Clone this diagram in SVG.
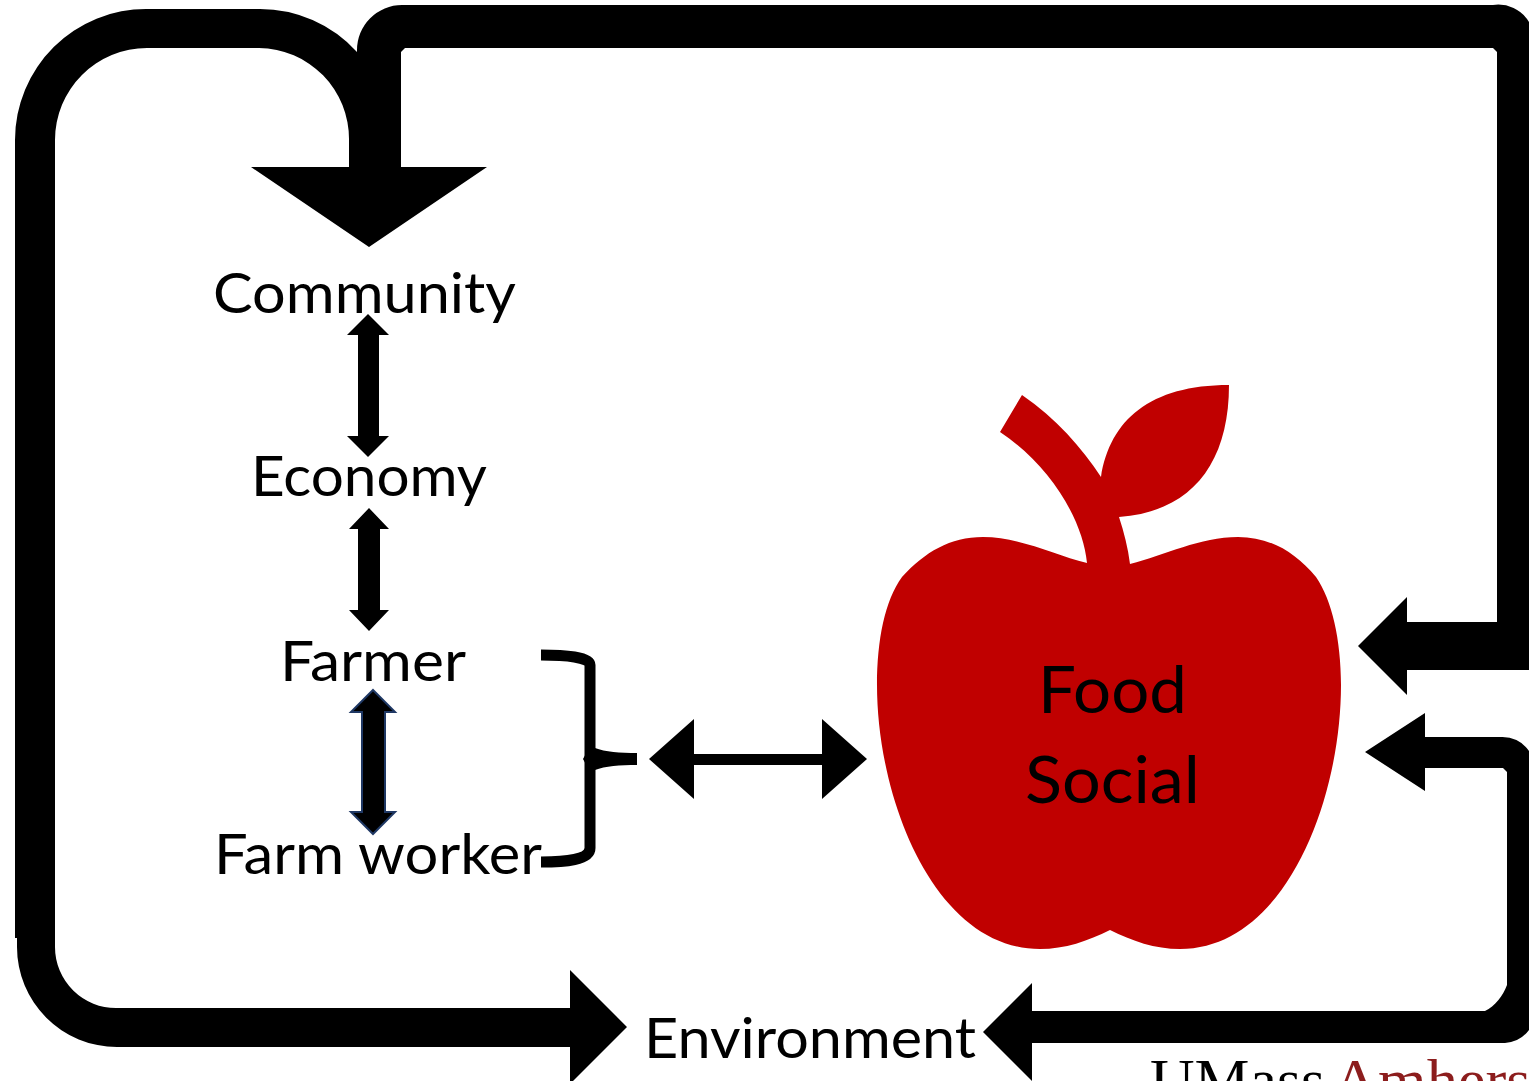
<svg xmlns="http://www.w3.org/2000/svg" width="1529" height="1081" viewBox="0 0 1529 1081">
<style>
text{font-family:Lato,"Liberation Sans",sans-serif;fill:#000;font-size:57px}
.big{font-size:66px}
.um{font-family:"Liberation Serif",serif;font-size:60px}
.k{fill:#000}
</style>
<rect width="1529" height="1081" fill="#fff"/>
<g id="logo"><text class="um" x="1150" y="1100" textLength="175" lengthAdjust="spacingAndGlyphs">UMass</text><text class="um" x="1333" y="1100" textLength="215" lengthAdjust="spacingAndGlyphs" style="fill:#8c1d1d">Amherst</text></g>
<g id="connectors">
<path class="k" d="M570 970L627 1027L570 1084V1047H117A100 100 0 0 1 17 947V938H15V140A131 131 0 0 1 147 9H259A131 131 0 0 1 357 52L372 170H349V140A91 91 0 0 0 259 48H147A92 92 0 0 0 55 140V947A61 61 0 0 0 117 1008H570Z"/>
<path class="k" d="M251 167H349L357 140V50A45 45 0 0 1 402 5H1493A36 36 0 0 1 1529 22V670H1407V695L1358 646L1407 597V622H1497V52L1493 48H405L401 52V167H487L369 247Z"/>
<path class="k" d="M1365 752L1425 713V737H1500A32 32 0 0 1 1529 751V1030A32 32 0 0 1 1505 1043H1032V1081L983 1032L1032 983V1011H1485C1495 1006 1503 996 1507 985V772L1503 768H1425V791Z"/>
<path class="k" d="M368 314L389 335H379V436H389L368 457L347 436H358V335H347Z"/>
<path class="k" d="M369 508L389 529H380V610H389L369 631L349 610H358V529H349Z"/>
<path d="M373 690L395 712H385V812H395L373 834L351 812H362V712H351Z" fill="#000" stroke="#1f3864" stroke-width="2"/>
<path class="k" d="M649 759L694 719V754H822V719L867 759L822 799V765H694V799Z"/>
<path d="M541 655C565 655 590 657 590 665V848C590 860 565 862 541 862" fill="none" stroke="#000" stroke-width="11"/>
<path class="k" d="M595 748C605 752 620 753 637 753V765C620 765 605 766 595 770L589 770L583 759L589 748Z"/>
</g>
<g id="apple">
<path fill="#c00000" d="M1087 563C1083 520 1050 465 1000 432L1022 395C1056 418 1082 448 1101 477C1110 420 1150 385 1229 385C1229 465 1190 512 1119 517C1124 532 1128 548 1130 564C1165 555 1200 537 1238 537C1270 537 1295 552 1316 577C1332 600 1341 640 1341 685C1341 800 1285 949 1180 949C1155 949 1132 941 1110 930C1088 941 1065 949 1040 949C935 949 877 800 877 685C877 640 885 600 902 577C925 552 950 537 983 537C1020 537 1055 555 1087 563Z"/>
<text class="big" x="1038" y="713" textLength="149" lengthAdjust="spacingAndGlyphs">Food</text>
<text class="big" x="1025" y="803" textLength="175" lengthAdjust="spacingAndGlyphs">Social</text>
</g>
<g id="community"><text x="213" y="313" textLength="303" lengthAdjust="spacingAndGlyphs">Community</text></g>
<g id="economy"><text x="251" y="496" textLength="236" lengthAdjust="spacingAndGlyphs">Economy</text></g>
<g id="farmer"><text x="280" y="681" textLength="186" lengthAdjust="spacingAndGlyphs">Farmer</text></g>
<g id="farm-worker"><text x="214" y="874" textLength="328" lengthAdjust="spacingAndGlyphs">Farm worker</text></g>
<g id="environment"><text x="644" y="1058" textLength="332" lengthAdjust="spacingAndGlyphs">Environment</text></g>
</svg>
